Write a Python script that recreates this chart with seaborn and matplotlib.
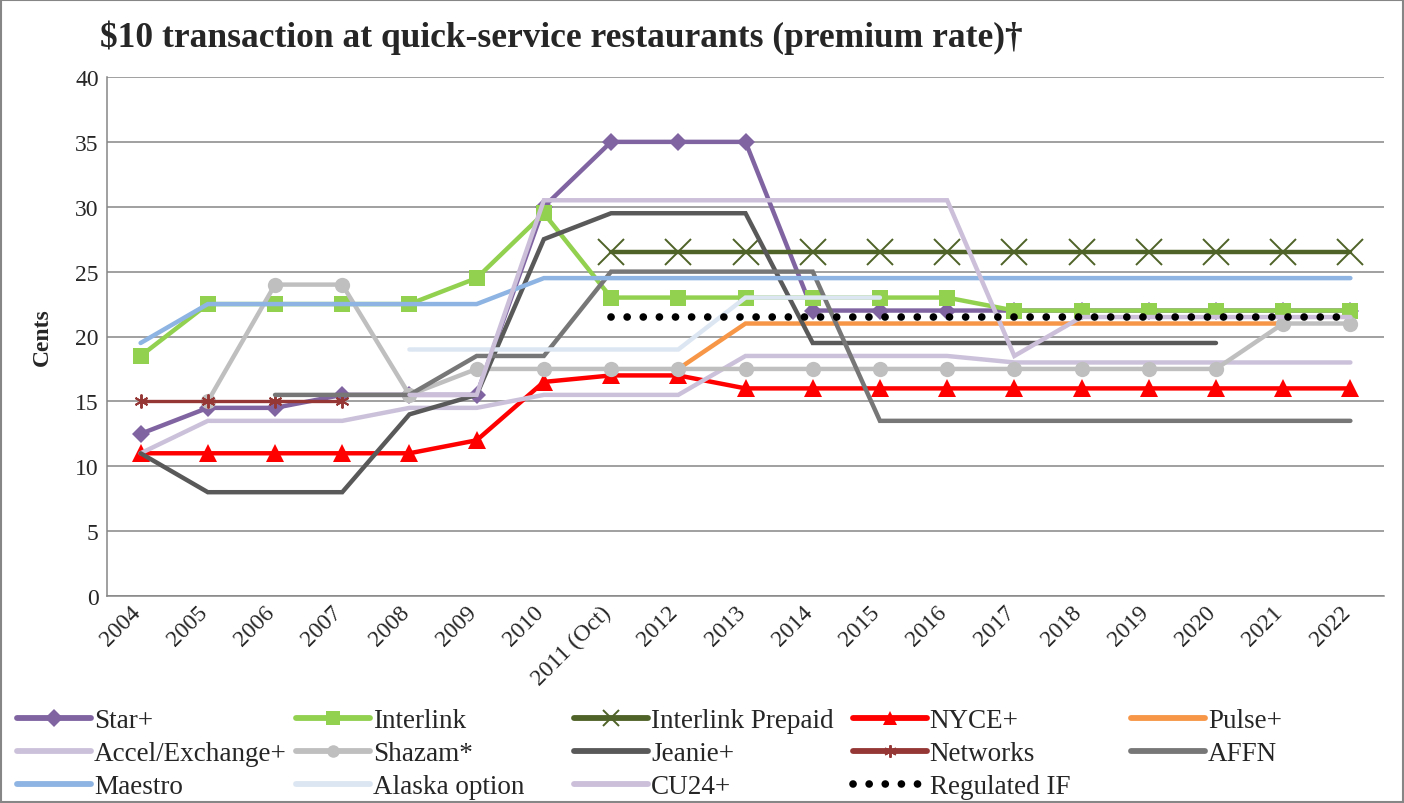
import numpy as np
import pandas as pd
import matplotlib
matplotlib.use("Agg")
import matplotlib.pyplot as plt
from matplotlib.patches import Rectangle
import seaborn as sns

nan = np.nan

years = ["2004", "2005", "2006", "2007", "2008", "2009", "2010", "2011 (Oct)", "2012",
         "2013", "2014", "2015", "2016", "2017", "2018", "2019", "2020", "2021", "2022"]

star = [12.5, 14.5, 14.5, 15.5, 15.5, 15.5, 30, 35, 35, 35, 22, 22, 22, 22, 22, 22, 22, 22, 22]
interlink = [18.5, 22.5, 22.5, 22.5, 22.5, 24.5, 29.5, 23, 23, 23, 23, 23, 23, 22, 22, 22, 22, 22, 22]
interlink_prepaid = [nan, nan, nan, nan, nan, nan, nan, 26.5, 26.5, 26.5, 26.5, 26.5, 26.5, 26.5, 26.5, 26.5, 26.5, 26.5, 26.5]
nyce = [11, 11, 11, 11, 11, 12, 16.5, 17, 17, 16, 16, 16, 16, 16, 16, 16, 16, 16, 16]
pulse = [nan, nan, nan, nan, nan, nan, nan, nan, 17.5, 21, 21, 21, 21, 21, 21, 21, 21, 21, nan]
accel = [11, 13.5, 13.5, 13.5, 14.5, 14.5, 15.5, 15.5, 15.5, 18.5, 18.5, 18.5, 18.5, 18, 18, 18, 18, 18, 18]
shazam = [nan, 15, 24, 24, 15.5, 17.5, 17.5, 17.5, 17.5, 17.5, 17.5, 17.5, 17.5, 17.5, 17.5, 17.5, 17.5, 21, 21]
jeanie = [11, 8, 8, 8, 14, 15.5, 27.5, 29.5, 29.5, 29.5, 19.5, 19.5, 19.5, 19.5, 19.5, 19.5, 19.5, nan, nan]
networks = [15, 15, 15, 15, nan, nan, nan, nan, nan, nan, nan, nan, nan, nan, nan, nan, nan, nan, nan]
affn = [nan, nan, 15.5, 15.5, 15.5, 18.5, 18.5, 25, 25, 25, 25, 13.5, 13.5, 13.5, 13.5, 13.5, 13.5, 13.5, 13.5]
maestro = [19.5, 22.5, 22.5, 22.5, 22.5, 22.5, 24.5, 24.5, 24.5, 24.5, 24.5, 24.5, 24.5, 24.5, 24.5, 24.5, 24.5, 24.5, 24.5]
alaska = [nan, nan, nan, nan, 19, 19, 19, 19, 19, 23, 23, 23, nan, nan, nan, nan, nan, nan, nan]
cu24 = [nan, nan, nan, nan, 15.5, 15.5, 30.5, 30.5, 30.5, 30.5, 30.5, 30.5, 30.5, 18.5, 21.5, 21.5, 21.5, 21.5, 21.5]
regulated = [nan, nan, nan, nan, nan, nan, nan, 21.5, 21.5, 21.5, 21.5, 21.5, 21.5, 21.5, 21.5, 21.5, 21.5, 21.5, 21.5]

# name, values, colour, line width, marker, marker size
series = [
    ("Star+", star, "#8064A2", 3.2, "D", 9),
    ("Interlink", interlink, "#92D050", 3.2, "s", 12),
    ("Interlink Prepaid", interlink_prepaid, "#4F6228", 3.2, "x", 19),
    ("NYCE+", nyce, "#FF0000", 3.2, "^", 13),
    ("Pulse+", pulse, "#F79646", 3.2, None, 0),
    ("Accel/Exchange+", accel, "#CCC1DA", 3.2, None, 0),
    ("Shazam*", shazam, "#BFBFBF", 3.2, "o", 11),
    ("Jeanie+", jeanie, "#595959", 3.2, None, 0),
    ("Networks", networks, "#953735", 2.4, (6, 2, 0), 10),
    ("AFFN", affn, "#777777", 3.2, None, 0),
    ("Maestro", maestro, "#8DB4E2", 3.2, None, 0),
    ("Alaska option", alaska, "#DCE6F2", 3.2, None, 0),
    ("CU24+", cu24, "#CBBFDA", 3.2, None, 0),
]

sns.set_style("white")
plt.rcParams["font.family"] = ["Liberation Serif", "DejaVu Serif"]

fig = plt.figure(figsize=(14.04, 8.04), dpi=100)
ax = fig.add_axes([107 / 1404, 1 - 597 / 804, (1384 - 107) / 1404, (597 - 78) / 804])

idx = np.arange(len(years))
for i, (name, vals, color, lw, marker, ms) in enumerate(series):
    df = pd.DataFrame({"x": idx, "y": vals}).dropna()
    kws = dict(color=color, linewidth=lw, label=name, zorder=3 + i * 0.1,
               solid_capstyle="round", solid_joinstyle="miter")
    if marker is not None:
        mew = 1.4 if marker in ("x", (6, 2, 0)) else 0
        kws.update(marker=marker, markersize=ms, markerfacecolor=color,
                   markeredgecolor=color, markeredgewidth=mew)
    sns.lineplot(data=df, x="x", y="y", ax=ax, **kws)

df = pd.DataFrame({"x": idx, "y": regulated}).dropna()
sns.lineplot(data=df, x="x", y="y", ax=ax, color="black", linewidth=5.5,
             linestyle=(0, (0.01, 2.1)), dash_capstyle="round", label="Regulated IF", zorder=5)

ax.set_xlim(-0.5, len(years) - 0.5)
ax.set_ylim(0, 40)
ax.set_yticks(np.arange(0, 41, 5))
ax.yaxis.grid(True, color="#868686", linewidth=1.1)
ax.set_axisbelow(True)
ax.tick_params(axis="y", length=0, labelsize=17, pad=6)

ax.set_xticks(np.arange(-0.5, len(years)), minor=False)
ax.set_xticklabels([])
ax.set_xticks(idx + 0.06, minor=True)
ax.set_xticklabels(years, minor=True, rotation=45, ha="right", va="top", fontsize=17)
ax.tick_params(axis="x", which="major", length=6, width=1.1, color="#868686", direction="out")
ax.tick_params(axis="x", which="minor", length=0, pad=4)

for s in ["top", "right"]:
    ax.spines[s].set_visible(False)
for s in ["left", "bottom"]:
    ax.spines[s].set_color("#868686")
    ax.spines[s].set_linewidth(1.1)

ax.set_xlabel("")
ax.set_ylabel("Cents", fontsize=17, fontweight="bold", labelpad=16)
if ax.get_legend() is not None:
    ax.get_legend().remove()

fig.text(100 / 1404, 1 - 38 / 804, "$10 transaction at quick-service restaurants (premium rate)\u2020",
         fontsize=25.5, fontweight="bold", ha="left", va="center")

# legend: five equal-width columns, filled row by row as in the original
handles, labels = ax.get_legend_handles_labels()
lookup = dict(zip(labels, handles))
order = [l for l, *_ in series] + ["Regulated IF"]
legend_ms = {"D": 9, "s": 10, "x": 11, "^": 10, "o": 9}
for c in range(5):
    names = order[c::5]
    leg = fig.legend([lookup[n] for n in names], names, loc="upper left",
                     bbox_to_anchor=((17 + 278.5 * c) / 1404, 1 - 709 / 804),
                     frameon=False, fontsize=19.5, handlelength=2.75, handletextpad=0.1,
                     labelspacing=0.3, borderaxespad=0, borderpad=0)
    for ln in leg.get_lines():
        m = ln.get_marker()
        if isinstance(m, str) and m in legend_ms:
            ln.set_markersize(legend_ms[m])
        elif m == (6, 2, 0):
            ln.set_markersize(9)
        if ln.get_linestyle() == "-":
            ln.set_linewidth(4.2)

fig.add_artist(Rectangle((0.001, 0.001), 0.998, 0.998, transform=fig.transFigure,
                         fill=False, edgecolor="#868686", linewidth=1.5))

fig.savefig("out.png", dpi=100)
